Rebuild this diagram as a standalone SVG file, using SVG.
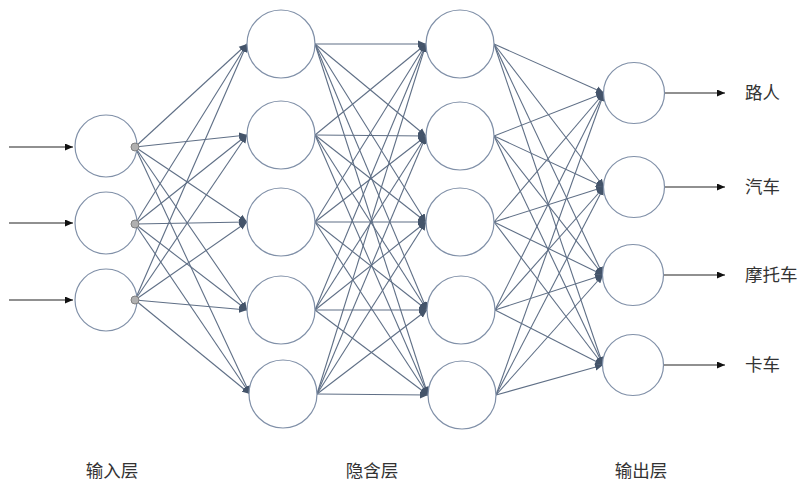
<svg xmlns="http://www.w3.org/2000/svg" width="803" height="482" viewBox="0 0 803 482">
<defs>
<marker id="ah" markerUnits="userSpaceOnUse" markerWidth="9" markerHeight="8" refX="8" refY="4" orient="auto"><path d="M0,0.5 L8,4 L0,7.5 Z" fill="#44546a"/></marker>
<marker id="bh" markerUnits="userSpaceOnUse" markerWidth="9" markerHeight="8" refX="8" refY="3.5" orient="auto"><path d="M0,0 L8,3.5 L0,7 Z" fill="#111"/></marker>
</defs>
<style>
.n{fill:#fff;stroke:#8090a8;stroke-width:1.2}
.c line{stroke:#5f6f86;stroke-width:1.1;marker-end:url(#ah)}
.io line{stroke:#222;stroke-width:1.2;marker-end:url(#bh)}
.d{fill:#b0b0b0;stroke:#808080;stroke-width:1}
text{font-family:"Noto Sans CJK SC","Noto Sans",sans-serif;font-size:17.5px;fill:#333}
</style>
<rect width="803" height="482" fill="#fff"/>
<g id="connectors" class="c">
<line x1="135" y1="147" x2="247" y2="44"/><line x1="135" y1="147" x2="247" y2="135"/><line x1="135" y1="147" x2="247" y2="222"/><line x1="135" y1="147" x2="247" y2="310"/><line x1="135" y1="147" x2="250" y2="394"/>
<line x1="135" y1="224" x2="247" y2="44"/><line x1="135" y1="224" x2="247" y2="135"/><line x1="135" y1="224" x2="247" y2="222"/><line x1="135" y1="224" x2="247" y2="310"/><line x1="135" y1="224" x2="250" y2="394"/>
<line x1="135" y1="300" x2="247" y2="44"/><line x1="135" y1="300" x2="247" y2="135"/><line x1="135" y1="300" x2="247" y2="222"/><line x1="135" y1="300" x2="247" y2="310"/><line x1="135" y1="300" x2="250" y2="394"/>
<line x1="315" y1="44" x2="426" y2="44"/><line x1="315" y1="44" x2="426" y2="136"/><line x1="315" y1="44" x2="426" y2="222"/><line x1="315" y1="44" x2="427" y2="310"/><line x1="315" y1="44" x2="428" y2="395"/>
<line x1="315" y1="135" x2="426" y2="44"/><line x1="315" y1="135" x2="426" y2="136"/><line x1="315" y1="135" x2="426" y2="222"/><line x1="315" y1="135" x2="427" y2="310"/><line x1="315" y1="135" x2="428" y2="395"/>
<line x1="315" y1="222" x2="426" y2="44"/><line x1="315" y1="222" x2="426" y2="136"/><line x1="315" y1="222" x2="426" y2="222"/><line x1="315" y1="222" x2="427" y2="310"/><line x1="315" y1="222" x2="428" y2="395"/>
<line x1="315" y1="310" x2="426" y2="44"/><line x1="315" y1="310" x2="426" y2="136"/><line x1="315" y1="310" x2="426" y2="222"/><line x1="315" y1="310" x2="427" y2="310"/><line x1="315" y1="310" x2="428" y2="395"/>
<line x1="317" y1="394" x2="426" y2="44"/><line x1="317" y1="394" x2="426" y2="136"/><line x1="317" y1="394" x2="426" y2="222"/><line x1="317" y1="394" x2="427" y2="310"/><line x1="317" y1="394" x2="428" y2="395"/>
<line x1="494" y1="44" x2="604" y2="93"/><line x1="494" y1="44" x2="604" y2="187"/><line x1="494" y1="44" x2="603" y2="275"/><line x1="494" y1="44" x2="603" y2="365"/>
<line x1="494" y1="136" x2="604" y2="93"/><line x1="494" y1="136" x2="604" y2="187"/><line x1="494" y1="136" x2="603" y2="275"/><line x1="494" y1="136" x2="603" y2="365"/>
<line x1="494" y1="222" x2="604" y2="93"/><line x1="494" y1="222" x2="604" y2="187"/><line x1="494" y1="222" x2="603" y2="275"/><line x1="494" y1="222" x2="603" y2="365"/>
<line x1="495" y1="310" x2="604" y2="93"/><line x1="495" y1="310" x2="604" y2="187"/><line x1="495" y1="310" x2="603" y2="275"/><line x1="495" y1="310" x2="603" y2="365"/>
<line x1="496" y1="395" x2="604" y2="93"/><line x1="496" y1="395" x2="604" y2="187"/><line x1="496" y1="395" x2="603" y2="275"/><line x1="496" y1="395" x2="603" y2="365"/>
</g>
<g id="io-arrows" class="io">
<line x1="9" y1="147" x2="73" y2="147"/><line x1="9" y1="223" x2="73" y2="223"/><line x1="9" y1="300" x2="73" y2="300"/>
<line x1="664" y1="93" x2="725" y2="93"/><line x1="664" y1="187" x2="725" y2="187"/><line x1="663" y1="275" x2="725" y2="275"/><line x1="663" y1="365" x2="725" y2="365"/>
</g>
<g id="in1"><circle class="n" cx="106" cy="146" r="31"/><circle class="d" cx="135" cy="147" r="4"/></g>
<g id="in2"><circle class="n" cx="106" cy="223" r="31"/><circle class="d" cx="135" cy="224" r="4"/></g>
<g id="in3"><circle class="n" cx="106" cy="300" r="31"/><circle class="d" cx="135" cy="300" r="4"/></g>
<g id="h1a"><circle class="n" cx="281" cy="44" r="34"/></g>
<g id="h1b"><circle class="n" cx="281" cy="135" r="34"/></g>
<g id="h1c"><circle class="n" cx="281" cy="222" r="34"/></g>
<g id="h1d"><circle class="n" cx="281" cy="310" r="34"/></g>
<g id="h1e"><circle class="n" cx="283" cy="394" r="34"/></g>
<g id="h2a"><circle class="n" cx="460" cy="44" r="34"/></g>
<g id="h2b"><circle class="n" cx="460" cy="136" r="34"/></g>
<g id="h2c"><circle class="n" cx="460" cy="222" r="34"/></g>
<g id="h2d"><circle class="n" cx="461" cy="310" r="34"/></g>
<g id="h2e"><circle class="n" cx="462" cy="395" r="34"/></g>
<g id="o1"><circle class="n" cx="634" cy="93" r="30.5"/><text x="745" y="99">路人</text></g>
<g id="o2"><circle class="n" cx="634" cy="187" r="30.5"/><text x="745" y="193">汽车</text></g>
<g id="o3"><circle class="n" cx="633" cy="275" r="30.5"/><text x="745" y="281">摩托车</text></g>
<g id="o4"><circle class="n" cx="633" cy="365" r="30.5"/><text x="745" y="371">卡车</text></g>
<g id="labels">
<text x="112" y="477" text-anchor="middle">输入层</text>
<text x="372" y="477" text-anchor="middle">隐含层</text>
<text x="641" y="477" text-anchor="middle">输出层</text>
</g>
</svg>
